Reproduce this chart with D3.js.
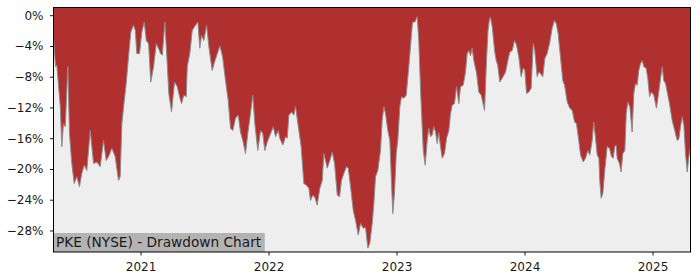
<!DOCTYPE html>
<html><head><meta charset="utf-8">
<script src="https://cdn.jsdelivr.net/npm/d3@7"></script>
<style>body{margin:0;background:#fff}svg{display:block}text{font-family:"DejaVu Sans",sans-serif}</style>
</head><body><svg id="c" width="700" height="280"></svg>
<script>
// Dates as decimal years
const dates = [
2020.320,2020.336,2020.346,2020.373,2020.385,2020.398,2020.412,2020.432,2020.445,2020.463,
2020.482,2020.502,2020.523,2020.541,2020.560,2020.580,2020.607,2020.633,2020.659,2020.685,
2020.711,2020.732,2020.750,2020.776,2020.802,2020.828,2020.841,2020.854,2020.873,2020.888,
2020.906,2020.924,2020.945,2020.959,2020.971,2020.992,2021.010,2021.029,2021.045,2021.063,
2021.080,2021.102,2021.123,2021.148,
2021.156,2021.170,2021.190,2021.203,2021.221,2021.242,2021.266,2021.287,2021.305,2021.320,
2021.338,2021.357,2021.365,2021.385,2021.404,2021.422,2021.448,2021.463,2021.477,2021.495,
2021.516,2021.534,2021.560,2021.578,2021.604,2021.620,2021.641,2021.664,2021.685,2021.703,
2021.721,2021.742,2021.763,2021.781,2021.802,2021.820,2021.838,2021.859,2021.877,2021.893,
2021.916,2021.938,2021.955,2021.971,2021.990,
2022.016,2022.037,2022.055,2022.076,2022.088,2022.112,2022.133,2022.146,2022.159,2022.180,
2022.198,2022.211,2022.237,2022.255,2022.276,2022.295,2022.315,2022.328,2022.346,2022.362,
2022.380,2022.401,2022.420,2022.432,2022.459,2022.479,2022.498,2022.516,2022.537,2022.555,
2022.570,2022.588,2022.609,2022.623,2022.641,2022.662,2022.680,2022.701,2022.719,2022.740,
2022.758,2022.776,2022.791,2022.810,2022.823,2022.836,2022.854,2022.875,
2022.888,2022.901,2022.914,2022.932,2022.948,2022.961,2022.971,2022.984,2022.998,2023.010,
2023.026,2023.039,2023.057,2023.076,2023.096,2023.109,2023.125,2023.143,2023.162,2023.174,
2023.188,2023.209,2023.224,2023.240,2023.252,2023.266,2023.279,2023.291,2023.305,2023.318,
2023.330,2023.344,2023.357,2023.375,2023.391,2023.409,2023.422,2023.435,2023.453,2023.469,
2023.487,2023.500,2023.521,2023.539,2023.552,2023.565,2023.578,2023.591,2023.604,2023.625,
2023.643,2023.662,2023.688,2023.703,2023.715,2023.727,
2023.734,2023.748,2023.766,2023.779,2023.791,2023.807,2023.826,2023.852,2023.870,2023.885,
2023.904,2023.922,2023.938,2023.955,2023.974,2023.990,2024.002,2024.016,2024.034,2024.052,
2024.068,2024.080,2024.099,2024.112,2024.125,2024.143,2024.159,2024.177,2024.198,2024.216,
2024.234,2024.248,2024.263,2024.281,2024.299,2024.313,2024.334,2024.354,2024.373,2024.391,
2024.406,2024.424,2024.438,2024.459,2024.477,2024.495,2024.510,2024.529,2024.541,2024.555,
2024.568,2024.581,2024.588,2024.599,2024.612,2024.627,2024.646,2024.664,2024.680,2024.693,
2024.705,2024.716,2024.724,2024.742,2024.755,2024.768,2024.784,2024.795,2024.807,2024.823,
2024.841,2024.854,2024.867,2024.880,2024.893,2024.906,2024.920,2024.932,2024.951,2024.963,
2024.977,2024.992,2025.010,2025.031,2025.049,2025.063,2025.076,2025.088,2025.102,2025.115,
2025.133,2025.154,2025.174,2025.193,2025.206,2025.219,2025.232,2025.245,2025.258,2025.271,
2025.284,2025.297
];
// Drawdown in percent
const drawdown = [
-3.0,-6.7,-6.5,-11.9,-17.1,-14.1,-14.5,-6.7,-15.4,-19.3,
-21.9,-21.0,-22.3,-20.6,-19.5,-20.2,-15.0,-19.3,-19.1,-19.7,
-16.3,-18.9,-18.4,-17.3,-18.4,-21.5,-21.0,-14.1,-11.1,-8.9,
-5.4,-2.2,-1.3,-2.0,-5.0,-5.0,-2.2,-0.9,-3.3,-3.7,
-8.7,-6.7,-3.7,-4.6,
-5.0,-5.2,-0.9,-4.6,-10.2,-12.6,-8.7,-9.3,-10.6,-11.5,
-10.4,-10.6,-6.7,-5.0,-2.0,-1.5,-0.9,-4.3,-2.6,-3.3,
-1.3,-4.1,-7.2,-6.1,-4.8,-4.0,-5.4,-8.5,-11.1,-14.7,
-15.0,-13.4,-13.0,-15.2,-16.5,-18.0,-15.4,-12.8,-10.4,-14.1,
-17.6,-15.0,-15.4,-17.6,-16.5,
-15.4,-14.5,-15.8,-15.0,-16.0,-16.9,-15.8,-16.0,-13.0,-12.6,
-13.0,-11.9,-15.0,-17.1,-21.9,-22.1,-22.5,-24.1,-23.4,-23.7,
-24.7,-22.5,-21.5,-18.0,-19.9,-18.9,-17.8,-19.3,-23.4,-23.6,
-21.5,-20.6,-19.7,-19.9,-22.3,-25.4,-26.7,-28.6,-27.1,-27.7,
-27.6,-30.3,-29.7,-27.1,-24.5,-21.0,-20.2,-17.6,
-13.7,-11.9,-12.8,-15.0,-16.3,-21.9,-25.8,-23.2,-18.0,-16.3,
-11.9,-10.6,-10.8,-10.4,-6.7,-4.1,-0.9,-0.9,-0.2,-3.3,
-9.8,-17.6,-19.5,-16.3,-14.7,-15.8,-15.6,-14.5,-15.2,-16.7,
-15.3,-17.1,-18.6,-18.0,-16.0,-15.0,-12.8,-11.7,-11.5,-9.3,
-11.5,-9.3,-9.1,-7.4,-5.0,-4.6,-5.3,-4.3,-5.9,-7.5,
-10.0,-10.4,-12.4,-5.9,-2.0,-0.4,
-0.3,-1.5,-4.6,-5.9,-6.5,-8.7,-8.2,-7.4,-5.9,-4.8,
-4.6,-3.3,-3.9,-5.4,-8.0,-6.9,-7.1,-10.2,-10.0,-9.5,
-3.7,-4.6,-8.0,-7.4,-7.6,-8.0,-5.6,-5.0,-3.5,-1.7,
-0.7,-1.1,-2.4,-5.4,-8.5,-9.1,-11.3,-12.1,-12.4,-13.9,
-14.1,-16.3,-18.2,-19.1,-18.6,-17.6,-18.2,-16.3,-13.9,-16.0,
-18.2,-18.6,-21.5,-23.8,-23.2,-20.2,-17.1,-17.3,-18.4,-18.6,
-17.1,-16.9,-18.6,-19.3,-20.4,-18.0,-17.6,-12.8,-11.3,-11.9,
-15.2,-10.2,-8.9,-9.1,-7.2,-6.3,-5.9,-6.7,-6.9,-8.2,
-10.6,-10.0,-10.4,-12.1,-10.0,-8.2,-6.7,-8.5,-8.9,-10.0,
-11.5,-13.7,-15.0,-16.3,-16.1,-14.5,-13.2,-14.3,-18.0,-20.4,
-18.4,-17.1
];
const yTickValues = [0,-4,-8,-12,-16,-20,-24,-28];
const xTickValues = [2021,2022,2023,2024,2025];
const title = "PKE (NYSE) - Drawdown Chart";

const svg = d3.select("#c");
const m = {left:53.5, right:690.5, top:7.5, bottom:252};
const x = d3.scaleLinear().domain(d3.extent(dates)).range([m.left, m.right]);
const y = d3.scaleLinear().domain([-30.8, 1.0]).range([m.bottom, m.top]);
const data = dates.map((d,i)=>({t:d, v:drawdown[i]}));

svg.append("defs").append("clipPath").attr("id","pc").append("rect")
  .attr("x",m.left).attr("y",m.top).attr("width",m.right-m.left).attr("height",m.bottom-m.top);

svg.append("rect").attr("x",m.left).attr("y",m.top).attr("width",m.right-m.left).attr("height",m.bottom-m.top)
  .attr("fill","#eeeeee");

const g = svg.append("g").attr("clip-path","url(#pc)");
g.append("path").datum(data)
  .attr("d", d3.area().x(d=>x(d.t)).y0(m.top).y1(d=>y(d.v)))
  .attr("fill","#b03030");
g.append("path").datum(data)
  .attr("d", d3.line().x(d=>x(d.t)).y(d=>y(d.v)))
  .attr("fill","none").attr("stroke","#8c8c8c").attr("stroke-width",1);

// Title box
const tg = svg.append("g");
const tr = tg.append("rect").attr("fill","#b3b3b3");
const tt = tg.append("text").attr("x",m.left+2.5).attr("y",246.5)
  .attr("font-size","13.7px").attr("fill","#1a1a1a").text(title);
const bb = tt.node().getBBox();
tr.attr("x",m.left).attr("y",233).attr("width",bb.x+bb.width+3-m.left).attr("height",m.bottom-233);

// Axes
const fmt = d => (d<0?"\u2212":"") + Math.abs(d) + "%";
const ya = svg.append("g").attr("transform",`translate(${m.left},0)`)
  .call(d3.axisLeft(y).tickValues(yTickValues).tickFormat(fmt).tickSize(3.5).tickPadding(6.5));
const xa = svg.append("g").attr("transform",`translate(0,${m.bottom})`)
  .call(d3.axisBottom(x).tickValues(xTickValues).tickFormat(d3.format("d")).tickSize(3.5).tickPadding(7));
[ya,xa].forEach(a=>{
  a.select(".domain").remove();
  a.selectAll("text").attr("font-size","12px").attr("font-family","DejaVu Sans").attr("fill","#1a1a1a");
  a.selectAll("line").attr("stroke","#000").attr("stroke-width",0.9);
});

svg.append("rect").attr("x",m.left).attr("y",m.top).attr("width",m.right-m.left).attr("height",m.bottom-m.top)
  .attr("fill","none").attr("stroke","#000").attr("stroke-width",1);
</script></body></html>
